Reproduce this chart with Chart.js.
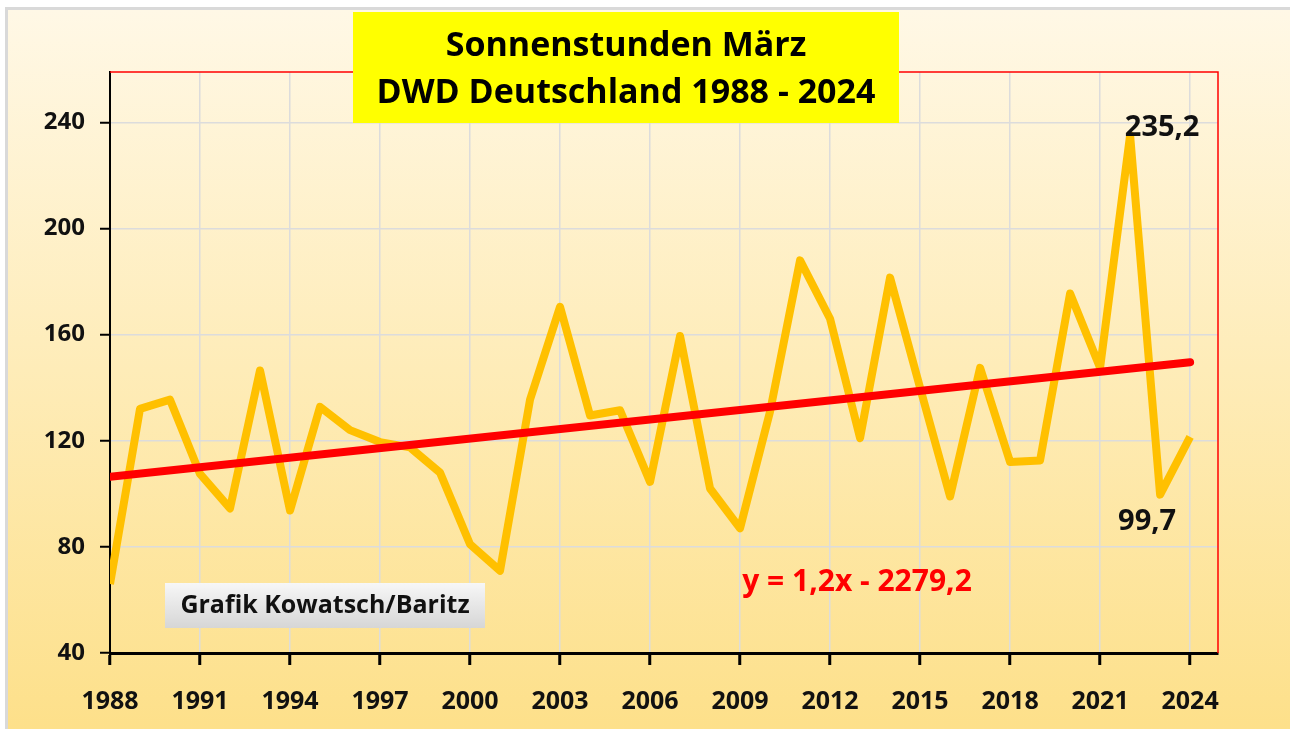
<!DOCTYPE html>
<html>
<head>
<meta charset="utf-8">
<script src="https://cdn.jsdelivr.net/npm/chart.js@4.4.1/dist/chart.umd.min.js"></script>
<style>
  html, body { margin: 0; padding: 0; background: #fff; }
  #wrap { width: 1290px; height: 729px; }
</style>
</head>
<body>
<div id="wrap"><canvas id="sunChart" width="1290" height="729"></canvas></div>
<script>
// Sonnenstunden März, DWD Deutschland
const years = [1988, 1989, 1990, 1991, 1992, 1993, 1994, 1995, 1996, 1997,
               1998, 1999, 2000, 2001, 2002, 2003, 2004, 2005, 2006, 2007,
               2008, 2009, 2010, 2011, 2012, 2013, 2014, 2015, 2016, 2017,
               2018, 2019, 2020, 2021, 2022, 2023, 2024];
const sunHours = [66, 132, 135.5, 107.5, 94.5, 146.5, 93.7, 132.8, 124, 119.5,
                  117.5, 108, 81, 71, 135.5, 170.5, 129.5, 131.5, 104.5, 159.5,
                  102, 87, 131, 188, 166, 121, 181.5, 140, 99, 147.5,
                  112, 112.6, 175.5, 147.5, 235.2, 99.7, 121.5];
const trendYears = [1988, 2024];
const trendValues = [106.4, 149.6];
const yTicks = [40, 80, 120, 160, 200, 240];
const xTicks = [1988, 1991, 1994, 1997, 2000, 2003, 2006, 2009, 2012, 2015, 2018, 2021, 2024];
const labeledYears = [2022, 2023];

const FONT = "'Open Sans', 'DejaVu Sans', sans-serif";

const sunPoints = years.map((y, i) => ({ x: y, y: sunHours[i] }));
const trendPoints = trendYears.map((y, i) => ({ x: y, y: trendValues[i] }));

const backgroundPlugin = {
  id: "backgroundPlugin",
  beforeDraw(chart) {
    const c = chart.ctx;
    c.save();
    c.fillStyle = "#ffffff";
    c.fillRect(0, 0, chart.width, chart.height);
    const g = c.createLinearGradient(0, 10, 0, chart.height);
    g.addColorStop(0, "#fff8e6");
    g.addColorStop(1, "#fde08a");
    c.fillStyle = g;
    c.fillRect(8, 10, chart.width - 8, chart.height - 10);
    c.strokeStyle = "#d9d9d9";
    c.lineWidth = 3;
    c.strokeRect(6.5, 8.5, chart.width + 4, chart.height + 4);
    c.restore();
  }
};

const framePlugin = {
  id: "framePlugin",
  beforeDatasetsDraw(chart) {
    const a = chart.chartArea;
    const c = chart.ctx;
    c.save();
    c.strokeStyle = "#ff0000";
    c.lineWidth = 1.5;
    c.beginPath();
    c.moveTo(a.left, a.top);
    c.lineTo(a.right, a.top);
    c.lineTo(a.right, a.bottom);
    c.stroke();
    c.restore();
  },
  afterDraw(chart) {
    const c = chart.ctx;
    const xs = chart.scales.x;
    const ys = chart.scales.y;
    c.save();

    // title box
    c.fillStyle = "#ffff00";
    c.fillRect(353, 12, 546, 111);
    c.fillStyle = "#000";
    c.textAlign = "center";
    c.textBaseline = "middle";
    c.font = "bold 34px " + FONT;
    c.fillText("Sonnenstunden März", 626, 46);
    c.fillText("DWD Deutschland 1988 - 2024", 626, 93);

    // credit box
    const g = c.createLinearGradient(0, 583, 0, 628);
    g.addColorStop(0, "#f7f7f7");
    g.addColorStop(1, "#d6d6d6");
    c.fillStyle = g;
    c.fillRect(165, 583, 320, 45);
    c.fillStyle = "#111";
    c.font = "bold 25px " + FONT;
    c.fillText("Grafik Kowatsch/Baritz", 325, 606);

    // trend equation
    c.fillStyle = "#ff0000";
    c.font = "bold 30px " + FONT;
    c.fillText("y = 1,2x - 2279,2", 857, 582);

    // value labels
    c.fillStyle = "#111";
    c.font = "bold 29px " + FONT;
    const iMax = years.indexOf(labeledYears[0]);
    const iMin = years.indexOf(labeledYears[1]);
    c.fillText(String(sunHours[iMax]).replace(".", ","),
      xs.getPixelForValue(years[iMax]) + 32, ys.getPixelForValue(sunHours[iMax]) - 7);
    c.fillText(String(sunHours[iMin]).replace(".", ","),
      xs.getPixelForValue(years[iMin]) - 13, ys.getPixelForValue(sunHours[iMin]) + 27);
    c.restore();
  }
};

new Chart(document.getElementById("sunChart"), {
  type: "line",
  data: {
    datasets: [
      {
        label: "Sonnenstunden",
        data: sunPoints,
        borderColor: "#ffc000",
        borderWidth: 8,
        pointRadius: 0,
        tension: 0,
        borderJoinStyle: "round",
        order: 2
      },
      {
        label: "Trend",
        data: trendPoints,
        borderColor: "#ff0000",
        borderWidth: 8,
        pointRadius: 0,
        borderCapStyle: "round",
        order: 1
      }
    ]
  },
  options: {
    responsive: false,
    animation: false,
    layout: { padding: { top: 72, right: 72, left: 0, bottom: 0 } },
    plugins: {
      legend: { display: false },
      tooltip: { enabled: false }
    },
    scales: {
      x: {
        type: "linear",
        min: 1988,
        max: 2024.93,
        afterBuildTicks(scale) {
          scale.ticks = xTicks.map(v => ({ value: v }));
        },
        afterFit(scale) { scale.height = 76; },
        grid: { color: "#dcdcdc", lineWidth: 1.5, tickColor: "#000", tickLength: 12, tickWidth: 3 },
        border: { color: "#000", width: 3 },
        ticks: {
          color: "#111",
          padding: 22,
          maxRotation: 0,
          autoSkip: false,
          font: { family: FONT, size: 25, weight: "bold" },
          callback: v => String(v)
        }
      },
      y: {
        min: 40,
        max: 259,
        afterBuildTicks(scale) {
          scale.ticks = yTicks.map(v => ({ value: v }));
        },
        afterFit(scale) { scale.width = 110; },
        grid: { color: "#dcdcdc", lineWidth: 1.5, tickColor: "#000", tickLength: 10, tickWidth: 2 },
        border: { color: "#000", width: 2 },
        ticks: {
          color: "#111",
          padding: 15,
          font: { family: FONT, size: 24, weight: "bold" }
        }
      }
    }
  },
  plugins: [backgroundPlugin, framePlugin]
});
</script>
</body>
</html>
